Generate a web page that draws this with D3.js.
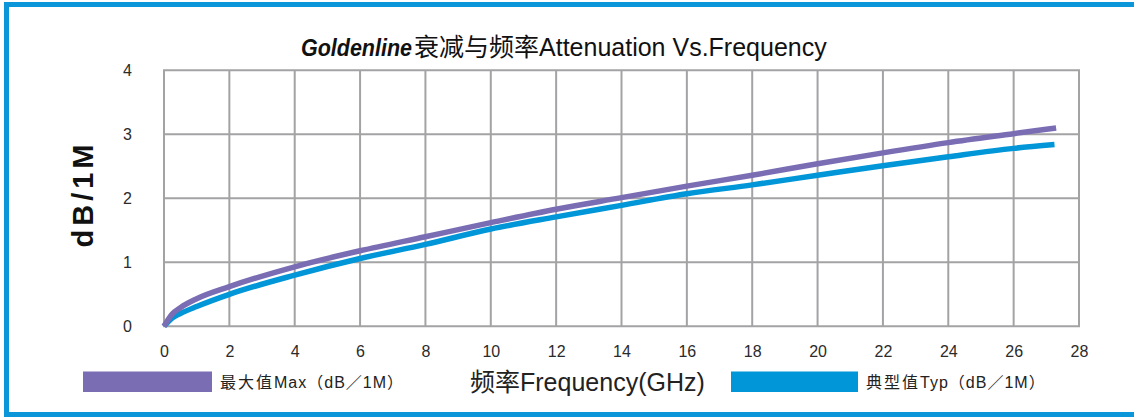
<!DOCTYPE html>
<html>
<head>
<meta charset="utf-8">
<script src="https://cdn.jsdelivr.net/npm/d3@7"></script>
<style>
  html, body { margin: 0; padding: 0; background: #fff; }
  svg { display: block; }
  .tick text { font-family: "Liberation Sans", Arial, sans-serif; fill: #2b2b2b; }
</style>
</head>
<body>
<div id="chart"></div>
<script>
// frequency points (GHz)
const freqGHz = [0, 0.25, 0.5, 1, 2, 4, 6, 8, 10, 12, 14, 16, 18, 20, 22, 24, 26, 27.3];
// max attenuation dB/1M
const maxValues = [0, 0.19, 0.29, 0.43, 0.62, 0.93, 1.18, 1.40, 1.62, 1.83, 2.01, 2.19, 2.36, 2.54, 2.71, 2.87, 3.01, 3.10];
// typical attenuation dB/1M
const typFreqGHz = [0, 0.25, 0.5, 1, 2, 4, 6, 8, 10, 12, 14, 16, 18, 20, 22, 24, 26, 27.25];
const typValues = [0, 0.13, 0.20, 0.31, 0.50, 0.80, 1.06, 1.28, 1.52, 1.71, 1.89, 2.07, 2.21, 2.36, 2.51, 2.65, 2.78, 2.84];

const xTicks = [0, 2, 4, 6, 8, 10, 12, 14, 16, 18, 20, 22, 24, 26, 28];
const yTicks = [0, 1, 2, 3, 4];

const width = 1134, height = 417;
const cjk = '"Noto Sans CJK SC", sans-serif';
const sans = '"Liberation Sans", Arial, sans-serif';

const svg = d3.select('#chart').append('svg')
    .attr('width', width)
    .attr('height', height);

// blue frame (top, left, bottom)
svg.append('path')
    .attr('d', 'M1134,4.5 L6.5,4.5 L6.5,414.5 L1134,414.5')
    .attr('fill', 'none')
    .attr('stroke', '#0a96d8')
    .attr('stroke-width', 5);

const x = d3.scaleLinear().domain([0, 28]).range([164, 1079]);
const y = d3.scaleLinear().domain([0, 4]).range([326.3, 70.3]);

// grid
const grid = svg.append('g');
grid.selectAll('line.v')
    .data(xTicks)
    .enter().append('line')
    .attr('x1', d => x(d)).attr('x2', d => x(d))
    .attr('y1', y(0)).attr('y2', y(4))
    .attr('stroke', '#a3a3a5').attr('stroke-width', 2);
grid.selectAll('line.h')
    .data(yTicks)
    .enter().append('line')
    .attr('x1', x(0) - 1).attr('x2', x(28) + 1)
    .attr('y1', d => y(d)).attr('y2', d => y(d))
    .attr('stroke', '#a3a3a5').attr('stroke-width', 2);

// axes (labels only)
const xAxis = svg.append('g')
    .attr('transform', `translate(0,${y(0)})`)
    .call(d3.axisBottom(x).tickValues(xTicks).tickFormat(d3.format('d')).tickSize(0).tickPadding(19));
xAxis.select('.domain').remove();
xAxis.selectAll('text').style('font-size', '16px');

const yAxis = svg.append('g')
    .attr('transform', 'translate(136,0)')
    .call(d3.axisLeft(y).tickValues(yTicks).tickFormat(d3.format('d')).tickSize(0).tickPadding(0));
yAxis.select('.domain').remove();
yAxis.selectAll('text').style('font-size', '16px').attr('text-anchor', 'middle').attr('x', -8.5);

// curves
const line = d3.line()
    .x(d => x(d[0]))
    .y(d => y(d[1]))
    .curve(d3.curveMonotoneX);

svg.append('path')
    .datum(d3.zip(typFreqGHz, typValues))
    .attr('d', line)
    .attr('fill', 'none')
    .attr('stroke', '#0096d8')
    .attr('stroke-width', 5.5);

svg.append('path')
    .datum(d3.zip(freqGHz, maxValues))
    .attr('d', line)
    .attr('fill', 'none')
    .attr('stroke', '#7a6db4')
    .attr('stroke-width', 5.5);

// title: brand part is condensed bold italic, squeeze it to width
svg.append('text')
    .attr('x', 301)
    .attr('y', 56)
    .attr('textLength', 111)
    .attr('lengthAdjust', 'spacingAndGlyphs')
    .style('font-family', sans)
    .style('font-weight', 'bold')
    .style('font-style', 'italic')
    .style('font-size', '24px')
    .style('fill', '#111')
    .text('Goldenline');
const title = svg.append('text')
    .attr('x', 414)
    .attr('y', 56)
    .style('font-size', '25px')
    .style('fill', '#111');
title.append('tspan')
    .text('衰减与频率')
    .style('font-family', cjk);
title.append('tspan')
    .text('Attenuation Vs.Frequency')
    .style('font-family', sans);

// y axis title
svg.append('text')
    .attr('transform', 'translate(93,194) rotate(-90)')
    .attr('text-anchor', 'middle')
    .style('font-family', sans)
    .style('font-weight', 'bold')
    .style('font-size', '29px')
    .style('letter-spacing', '4px')
    .style('fill', '#111')
    .text('dB/1M');

// x axis title
const xTitle = svg.append('text')
    .attr('x', 470)
    .attr('y', 391)
    .style('font-size', '25px')
    .style('fill', '#222');
xTitle.append('tspan').text('频率').style('font-family', cjk);
xTitle.append('tspan').text('Frequency(GHz)').style('font-family', sans);

// legend
const legendItems = [
    { cn: '最大值', en: 'Max', color: '#7a6db4', x0: 83, x1: 212, tx: 220 },
    { cn: '典型值', en: 'Typ', color: '#0096d8', x0: 731, x1: 858, tx: 866 }
];
legendItems.forEach(item => {
    svg.append('rect')
        .attr('x', item.x0)
        .attr('y', 371.5)
        .attr('width', item.x1 - item.x0)
        .attr('height', 20.5)
        .attr('fill', item.color);
    const t = svg.append('text')
        .attr('x', item.tx)
        .attr('y', 388)
        .style('font-size', '16px')
        .style('letter-spacing', '1px')
        .style('fill', '#222');
    t.append('tspan').text(item.cn).style('font-family', cjk).style('letter-spacing', '2px');
    t.append('tspan').text(item.en).style('font-family', sans);
    t.append('tspan').text('（').style('font-family', cjk);
    t.append('tspan').text('dB').style('font-family', sans);
    t.append('tspan').text('／').style('font-family', cjk);
    t.append('tspan').text('1M').style('font-family', sans);
    t.append('tspan').text('）').style('font-family', cjk);
});
</script>
</body>
</html>
